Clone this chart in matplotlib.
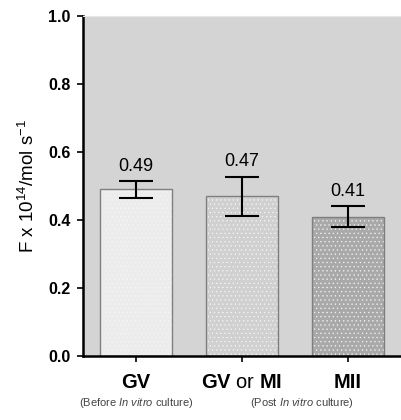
import matplotlib.pyplot as plt

plt.rcParams['font.family'] = ['Liberation Sans', 'DejaVu Sans']
plt.rcParams['mathtext.fontset'] = 'custom'
plt.rcParams['mathtext.rm'] = 'Liberation Sans'
plt.rcParams['mathtext.bf'] = 'Liberation Sans:bold'
plt.rcParams['mathtext.it'] = 'Liberation Sans:italic'
plt.rcParams['hatch.linewidth'] = 0.4

# datos
etapas = ["GV", "GV or MI", "MII"]
valores = [0.49, 0.47, 0.41]
errores = [0.024, 0.058, 0.030]
colores = ["#ececec", "#d0d0d0", "#a9a9a9"]
etiquetas_y = [0.0, 0.2, 0.4, 0.6, 0.8, 1.0]

fig = plt.figure(figsize=(4.01, 4.2), dpi=100)
ax = fig.add_axes([0.207, 0.152, 0.793, 0.810])
ax.set_facecolor("#d4d4d4")

x = list(range(len(etapas)))
# relleno con puntitos claros (el hatch toma el color del borde)
ax.bar(x, valores, width=0.67, color=colores, edgecolor="#f6f6f6", linewidth=0,
       hatch="....", zorder=2)
# borde gris
ax.bar(x, valores, width=0.67, fill=False, edgecolor="#7f7f7f", linewidth=1.0, zorder=2)
ax.errorbar(x, valores, yerr=errores, fmt="none", ecolor="black", elinewidth=1.5,
            capsize=12, capthick=1.5, zorder=3)

for xi, v, e in zip(x, valores, errores):
    ax.text(xi, v + e + 0.044, f"{v:.2f}", ha="center", va="center", fontsize=13)

ax.set_xlim(-0.5, 2.5)
ax.set_ylim(0, 1.0)
ax.set_yticks(etiquetas_y)
ax.set_yticklabels([f"{t:.1f}" for t in etiquetas_y], fontweight="bold", fontsize=11.5)
ax.set_xticks(x)
ax.set_xticklabels([])
ax.tick_params(axis="both", direction="out", length=4, width=1.2, color="black")
ax.tick_params(axis="y", pad=5)

for s in ["left", "bottom"]:
    ax.spines[s].set_linewidth(1.8)
ax.spines["right"].set_visible(False)
ax.spines["top"].set_color("#e8e8e8")

ax.set_ylabel("F x 10$^{14}$/mol s$^{-1}$", fontsize=13.5, labelpad=7)

# etiquetas del eje x
tr = ax.get_xaxis_transform()
ax.text(0, -0.077, "GV", transform=tr, ha="center", va="center",
        fontsize=14.5, fontweight="bold")
ax.text(1, -0.077, r"$\mathbf{GV}$ or $\mathbf{MI}$", transform=tr,
        ha="center", va="center", fontsize=14.5)
ax.text(2, -0.077, "MII", transform=tr, ha="center", va="center",
        fontsize=14.5, fontweight="bold")
ax.text(0, -0.137, r"(Before $\mathit{In\ vitro}$ culture)", transform=tr,
        ha="center", va="center", fontsize=8, color="#444444")
ax.text(1.57, -0.137, r"(Post $\mathit{In\ vitro}$ culture)", transform=tr,
        ha="center", va="center", fontsize=8, color="#444444")

fig.savefig("out.png", dpi=100)
